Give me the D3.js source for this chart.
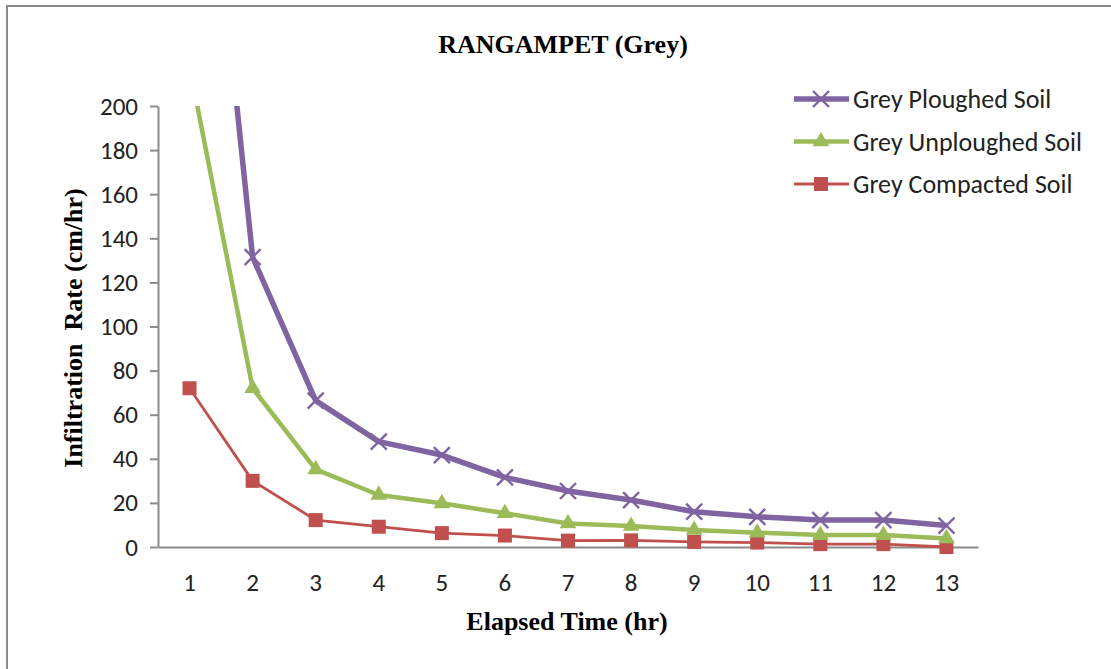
<!DOCTYPE html>
<html>
<head>
<meta charset="utf-8">
<script src="https://cdn.jsdelivr.net/npm/d3@7"></script>
<style>
  html, body { margin: 0; padding: 0; background: #fff; }
  svg { display: block; }
</style>
</head>
<body>
<svg id="chart" width="1111" height="669"></svg>
<script>
const categories = ["1","2","3","4","5","6","7","8","9","10","11","12","13"];
const yTicks = [0,20,40,60,80,100,120,140,160,180,200];
const seriesNames = ["Grey Ploughed Soil","Grey Unploughed Soil","Grey Compacted Soil"];
const ploughed   = [406, 131.5, 66.4, 47.8, 41.7, 31.6, 25.4, 21.3, 16, 13.7, 12.2, 12.2, 9.7];
const unploughed = [218, 72, 35.2, 23.6, 19.8, 15.3, 10.7, 9.5, 7.7, 6.5, 5.4, 5.4, 3.9];
const compacted  = [72, 30, 12.2, 9.2, 6.3, 5.2, 2.9, 3, 2.3, 2, 1.3, 1.3, 0];

(function () {
const series = [
  {name: seriesNames[0], values: ploughed,   color: "#8064A2", width: 5.5, marker: "x"},
  {name: seriesNames[1], values: unploughed, color: "#9BBB59", width: 4.5, marker: "tri"},
  {name: seriesNames[2], values: compacted,  color: "#C0504D", width: 2.8, marker: "sq"}
];

const sansFont = "Carlito, Lato, 'Open Sans', sans-serif";
const serifFont = "'Liberation Serif', 'Times New Roman', serif";
const svg = d3.select("#chart");
const pLeft = 158, pRight = 978, pTop = 106, pBottom = 547;

// outer frame
svg.append("rect").attr("x", 7).attr("y", 6).attr("width", 1120).attr("height", 700)
  .attr("fill", "none").attr("stroke", "#8c8c8c").attr("stroke-width", 2);

const x = d3.scaleBand().domain(categories).range([pLeft, pRight]);
const y = d3.scaleLinear().domain([0, 200]).range([pBottom, pTop]);

// title
svg.append("text").attr("x", 563).attr("y", 53).attr("text-anchor", "middle")
  .style("font-family", serifFont)
  .style("font-weight", "bold").style("font-size", "26px").attr("fill", "#000")
  .text("RANGAMPET (Grey)");

// y axis
const yAxis = svg.append("g").attr("transform", `translate(${pLeft},0)`)
  .call(d3.axisLeft(y).tickValues(yTicks).tickSize(8).tickPadding(12).tickSizeOuter(0));
yAxis.select(".domain").attr("stroke", "#8c8c8c").attr("stroke-width", 2);
yAxis.selectAll(".tick line").attr("stroke", "#8c8c8c").attr("stroke-width", 2);
yAxis.selectAll(".tick text").style("font-family", sansFont)
  .style("font-size", "25px").attr("fill", "#222");

// x axis
const xAxis = svg.append("g").attr("transform", `translate(0,${pBottom})`)
  .call(d3.axisBottom(x).tickSize(0).tickPadding(26).tickSizeOuter(0));
xAxis.select(".domain").attr("stroke", "#8c8c8c").attr("stroke-width", 2);
xAxis.selectAll(".tick text").style("font-family", sansFont)
  .style("font-size", "25px").attr("fill", "#222");

// axis titles
svg.append("text").attr("transform", `translate(82,328) rotate(-90)`).attr("text-anchor", "middle")
  .style("font-family", serifFont)
  .style("font-weight", "bold").style("font-size", "26px").attr("fill", "#000")
  .style("white-space", "pre")
  .text("Infiltration  Rate (cm/hr)");
svg.append("text").attr("x", 567).attr("y", 630).attr("text-anchor", "middle")
  .style("font-family", serifFont)
  .style("font-weight", "bold").style("font-size", "26px").attr("fill", "#000")
  .text("Elapsed Time (hr)");

// clip
svg.append("clipPath").attr("id", "plotclip").append("rect")
  .attr("x", pLeft).attr("y", pTop).attr("width", pRight - pLeft).attr("height", pBottom - pTop + 20);

const cx = d => x(d) + x.bandwidth() / 2;
const line = d3.line().x((d, i) => cx(categories[i])).y(d => y(d));

function drawMarker(g, type, color, px, py) {
  if (type === "x") {
    const s = 8;
    g.append("path").attr("d", `M${px-s},${py-s}L${px+s},${py+s}M${px-s},${py+s}L${px+s},${py-s}`)
      .attr("stroke", color).attr("stroke-width", 2.4).attr("fill", "none");
  } else if (type === "tri") {
    g.append("path").attr("d", d3.symbol().type(d3.symbolTriangle).size(120)())
      .attr("transform", `translate(${px},${py})`).attr("fill", color);
  } else {
    g.append("rect").attr("x", px - 7).attr("y", py - 7).attr("width", 14).attr("height", 14)
      .attr("fill", color);
  }
}

const plot = svg.append("g").attr("clip-path", "url(#plotclip)");
series.slice().reverse().forEach(s => {
  plot.append("path").datum(s.values).attr("d", line).attr("fill", "none")
    .attr("stroke", s.color).attr("stroke-width", s.width).attr("stroke-linejoin", "round");
  const mg = plot.append("g");
  s.values.forEach((v, i) => drawMarker(mg, s.marker, s.color, cx(categories[i]), y(v)));
});

// legend
const lg = svg.append("g");
series.forEach((s, i) => {
  const ly = 99 + i * 42.5;
  lg.append("line").attr("x1", 794).attr("x2", 849).attr("y1", ly).attr("y2", ly)
    .attr("stroke", s.color).attr("stroke-width", s.width);
  drawMarker(lg, s.marker, s.color, 821, ly);
  lg.append("text").attr("x", 853).attr("y", ly + 9)
    .style("font-family", sansFont).style("font-size", "26px")
    .attr("fill", "#222").text(s.name);
});
})();
</script>
</body>
</html>
